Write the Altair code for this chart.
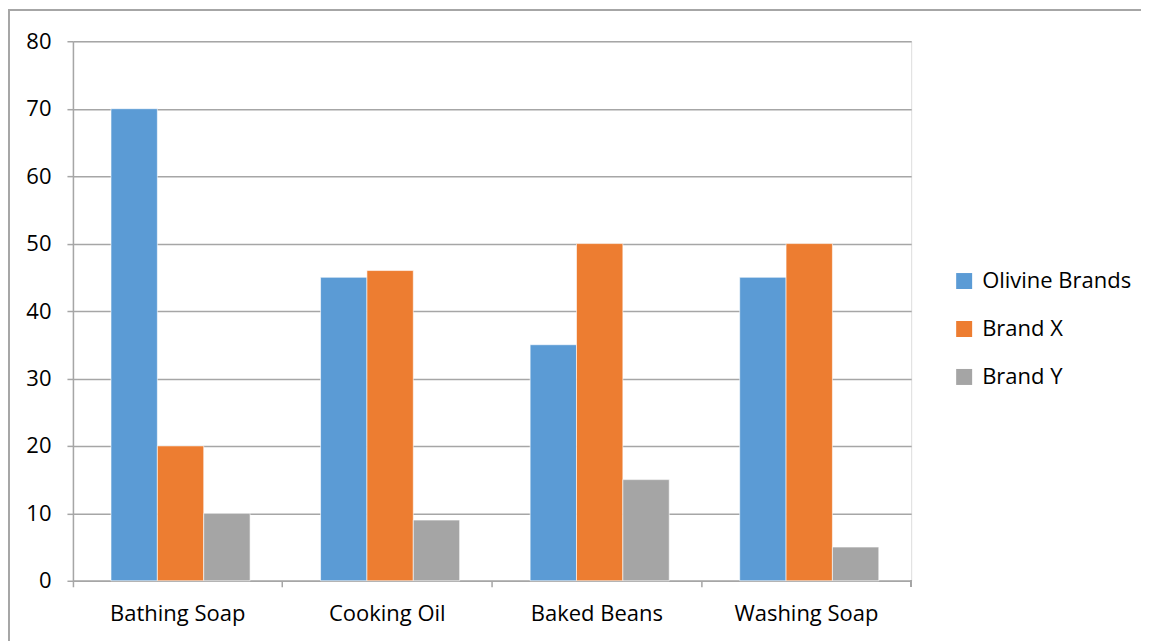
import altair as alt
import pandas as pd

categories = ["Bathing Soap", "Cooking Oil", "Baked Beans", "Washing Soap"]
series = ["Olivine Brands", "Brand X", "Brand Y"]
olivine = [70, 45, 35, 45]
brand_x = [20, 46, 50, 50]
brand_y = [10, 9, 15, 5]
colors = ["#5B9BD5", "#ED7D31", "#A5A5A5"]

rows = []
for i, c in enumerate(categories):
    for s, vals in zip(series, [olivine, brand_x, brand_y]):
        rows.append({"category": c, "series": s, "value": vals[i]})
df = pd.DataFrame(rows)

FONT = "Open Sans"
FS = 22
GRID = "#A6A6A6"
W, H = 839, 540

bars = alt.Chart(df).mark_bar(stroke="white", strokeWidth=0.6).encode(
    x=alt.X("category:N", sort=categories, title=None,
            scale=alt.Scale(paddingInner=0, paddingOuter=0),
            axis=alt.Axis(bandPosition=0, labelAngle=0, labelFontSize=FS, labelFont=FONT,
                          labelColor="#000000", labelPadding=17, tickSize=6, tickColor=GRID,
                          domainColor=GRID, domainWidth=1.5, tickWidth=1.5, grid=False)),
    xOffset=alt.XOffset("series:N", sort=series,
                        scale=alt.Scale(paddingOuter=0.76, paddingInner=0, align=0.54)),
    y=alt.Y("value:Q", title=None,
            scale=alt.Scale(domain=[0, 80], nice=False),
            axis=alt.Axis(values=list(range(0, 81, 10)), labelFontSize=FS, labelFont=FONT,
                          labelColor="#000000", labelPadding=16, tickSize=6, tickColor=GRID,
                          tickWidth=1.5, domainColor=GRID, domainWidth=1.5,
                          gridColor=GRID, gridWidth=1.5)),
    color=alt.Color("series:N", sort=series,
                    scale=alt.Scale(domain=series, range=colors),
                    legend=alt.Legend(title=None, orient="none", legendX=881, legendY=229,
                                      symbolType="square", symbolSize=256, symbolStrokeWidth=0,
                                      labelFontSize=FS, labelFont=FONT, labelColor="#000000",
                                      labelOffset=7, rowPadding=26)),
)

end_tick = alt.Chart(df).mark_rule(color=GRID, strokeWidth=1.5).encode(
    x=alt.value(W), y=alt.value(H), y2=alt.value(H + 6)
)
frame_top = alt.Chart(df).mark_rule(color="#A6A6A6", strokeWidth=1.5).encode(
    x=alt.value(-66), x2=alt.value(1100), y=alt.value(-31)
)
frame_left = alt.Chart(df).mark_rule(color="#A6A6A6", strokeWidth=2).encode(
    x=alt.value(-64.5), y=alt.value(-31), y2=alt.value(H + 80)
)

chart = alt.layer(bars, end_tick, frame_top, frame_left).properties(
    width=W, height=H,
    autosize=alt.AutoSizeParams(type="none"),
    padding={"left": 65, "top": 33, "right": 230, "bottom": 60},
).configure_view(stroke=None).configure(background="white")

chart.save("out.html", embed_options={"renderer": "svg", "actions": False})
